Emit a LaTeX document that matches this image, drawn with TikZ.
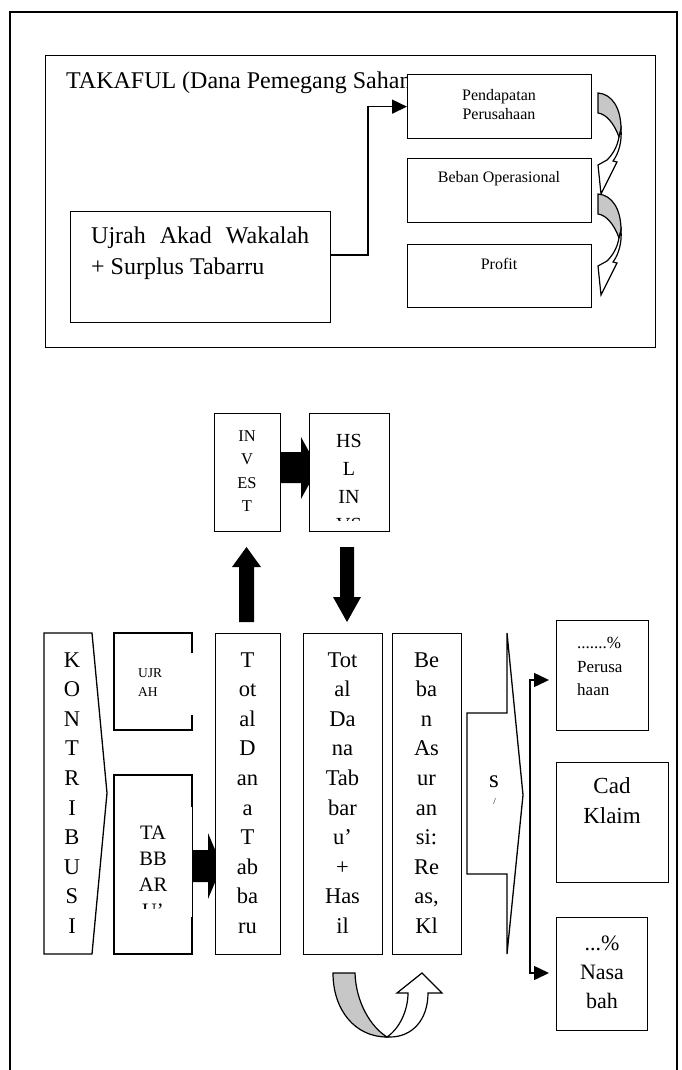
\documentclass[tikz,border=0pt]{standalone}
\usepackage{fontspec}
\setmainfont{Liberation Serif}
\usetikzlibrary{arrows.meta}
\begin{document}
\begin{tikzpicture}[x=1pt,y=-1pt,
  lw/.style={line width=1.3pt},
  box/.style={draw,line width=1.3pt,fill=white,inner sep=0pt},
  conn/.style={line width=1.5pt},
  tri/.tip={Triangle[length=15pt,width=14pt]},
  coltext/.style={anchor=base,inner sep=0pt,font=\fontsize{22.5}{26}\selectfont},
  nasatext/.style={anchor=base,inner sep=0pt,font=\fontsize{22}{26}\selectfont},
  curvarr/.pic={
    \filldraw[fill=black!22,line width=1.2pt] (0,0) .. controls (14,1) and (23,15) .. (23,36) -- (21,44) .. controls (16,30) and (8,21) .. (0,20) -- cycle;
    \filldraw[fill=white,line width=1.2pt] (21,44) .. controls (19,55) and (14,62) .. (9,67) -- (0,72) -- (3,101) -- (19,69) -- (15,68) .. controls (21,60) and (24,48) .. (23,36) -- cycle;
  }]
\useasboundingbox (0,0) rectangle (681,1070);
% outer frame
\draw[line width=1.5pt] (10,1072) -- (10,12) -- (677,12) -- (677,1072);

% ---------- top section ----------
\node[box,anchor=north west,minimum width=610pt,minimum height=292pt] (takaful) at (45,55) {};
\node[anchor=base west,inner sep=0pt,font=\fontsize{24}{28}\selectfont] (title) at (66,89) {TAKAFUL (Dana Pemegang Saham};
\node[box,anchor=north west,minimum width=184pt,minimum height=64pt] (pend) at (407,74) {};
\node[align=center,inner sep=0pt,font=\fontsize{16}{19}\selectfont] (pendt) at (499,104.5) {Pendapatan\\Perusahaan};
\node[box,anchor=north west,minimum width=184pt,minimum height=64pt] (beban) at (407,158) {};
\node[inner sep=0pt,font=\fontsize{16}{19}\selectfont] (bebant) at (499,179) {Beban Operasional};
\node[box,anchor=north west,minimum width=184pt,minimum height=63pt] (profit) at (407,244) {};
\node[inner sep=0pt,font=\fontsize{16}{19}\selectfont] (profitt) at (499,264) {Profit};
\node[box,anchor=north west,minimum width=260pt,minimum height=111pt] (ujrah) at (70,211) {};
\node[anchor=base west,inner sep=0pt,font=\fontsize{24}{28}\selectfont] (ujraht1) at (91,243) {\makebox[218pt][s]{Ujrah Akad Wakalah}};
\node[anchor=base west,inner sep=0pt,font=\fontsize{24}{28}\selectfont] (ujraht2) at (91,274) {+ Surplus Tabarru};
\draw[conn,-tri] (ujrah.east |- 0,255) -- (368,255) |- (pend.west);
\pic at (598,93) {curvarr};
\pic at (598,194) {curvarr};

% ---------- invest / hasil ----------
\fill (280,452) -- (301,452) -- (301,437) -- (318,468) -- (301,499) -- (301,483) -- (280,483) -- cycle;
\node[box,anchor=north west,minimum width=66pt,minimum height=118pt] (invest) at (214,413) {};
\node[box,anchor=north west,minimum width=80pt,minimum height=118pt] (hsl) at (309,413) {};
\foreach \t [count=\i] in {IN,V,ES,T}
  \node[anchor=base,inner sep=0pt,font=\fontsize{16.5}{20}\selectfont] (inv\i) at (247,{441.5+23.3*(\i-1)}) {\t};
\begin{scope}
  \clip (309,413) rectangle (389,520);
  \foreach \t [count=\i] in {HS,L,IN,VS}
    \node[anchor=base,inner sep=0pt,font=\fontsize{20}{24}\selectfont] (hsl\i) at (349,{447+28.3*(\i-1)}) {\t};
\end{scope}
% up and down block arrows
\fill (239,622) -- (239,567) -- (232,567) -- (246.5,547) -- (261,567) -- (254,567) -- (254,622) -- cycle;
\fill (340,547) -- (354,547) -- (354,597) -- (361,597) -- (347,622) -- (333,597) -- (340,597) -- cycle;

% ---------- bottom row ----------
\draw[lw,fill=white] (44,633) -- (92,633) -- (107,793) -- (92,954) -- (44,954) -- cycle;
\foreach \t [count=\i] in {K,O,N,T,R,I,B,U,S,I}
  \node[coltext] (kon\i) at (72,{667+29.6*(\i-1)}) {\t};

% UJRAH box (right side partly missing)
\draw[lw] (192,653) -- (192,633) -- (114,633) -- (114,730) -- (192,730) -- (192,715);
\node[anchor=base west,inner sep=0pt,font=\fontsize{13.5}{16}\selectfont] (uj1) at (138,677.5) {UJR};
\node[anchor=base west,inner sep=0pt,font=\fontsize{13.5}{16}\selectfont] (uj2) at (138,696.5) {AH};

% TABBARU box
\draw[lw] (192,807) -- (192,775) -- (114,775) -- (114,954) -- (192,954) -- (192,917);
\draw[line width=0.6pt] (192,807) -- (192,917);
\begin{scope}
  \clip (114,775) rectangle (192,908);
  \foreach \t [count=\i] in {TA,BB,AR,U’}
    \node[anchor=base,inner sep=0pt,font=\fontsize{20.5}{24}\selectfont] (tab\i) at (153,{839+26*(\i-1)}) {\t};
\end{scope}
\fill (192,850) -- (208,850) -- (208,833) -- (222,866) -- (208,899) -- (208,882) -- (192,882) -- cycle;

% Total Dana Tabbaru
\node[box,anchor=north west,minimum width=65pt,minimum height=321pt] (total) at (215,633) {};
\foreach \t [count=\i] in {T,ot,al,D,an,a,T,ab,ba,ru}
  \node[coltext] (tot\i) at (247.5,{667+29.6*(\i-1)}) {\t};
% Total + Hasil
\node[box,anchor=north west,minimum width=79pt,minimum height=321pt] (hasil) at (303,633) {};
\foreach \t [count=\i] in {Tot,al,Da,na,Tab,bar,u’,+,Has,il}
  \node[coltext] (has\i) at (342.5,{667+29.6*(\i-1)}) {\t};
% Beban Asuransi
\node[box,anchor=north west,minimum width=69pt,minimum height=321pt] (bebanas) at (392,633) {};
\foreach \t [count=\i] in {Be,ba,n,As,ur,an,si:,Re,{as,},Kl}
  \node[coltext] (ba\i) at (426.5,{667+29.6*(\i-1)}) {\t};

% big right arrow with s/
\draw[lw,fill=white] (467,713) -- (507,713) -- (507,633) -- (523,795) -- (507,954) -- (507,874) -- (467,874) -- cycle;
\node[anchor=base,inner sep=0pt,font=\fontsize{25}{28}\selectfont] (s1) at (494,787.5) {s};
\node[inner sep=0pt,font=\fontsize{9}{10}\selectfont] (s2) at (494.5,802) {/};

% right boxes
\node[box,anchor=north west,minimum width=92pt,minimum height=110pt] (perus) at (556,620) {};
\node[anchor=base west,inner sep=0pt,font=\fontsize{17}{20}\selectfont] (pe1) at (577,648) {.......\%};
\node[anchor=base west,inner sep=0pt,font=\fontsize{17}{20}\selectfont] (pe2) at (577,672) {Perusa};
\node[anchor=base west,inner sep=0pt,font=\fontsize{17}{20}\selectfont] (pe3) at (577,695) {haan};
\node[box,anchor=north west,minimum width=112pt,minimum height=120pt] (cad) at (556,762) {};
\node[align=center,inner sep=0pt,font=\fontsize{23}{30}\selectfont] (cadt) at (612,801) {Cad\\Klaim};
\node[box,anchor=north west,minimum width=91pt,minimum height=113pt] (nasa) at (556,917) {};
\node[nasatext] (na1) at (602,950) {...\%};
\node[nasatext] (na2) at (602,979) {Nasa};
\node[nasatext] (na3) at (602,1008) {bah};
\draw[conn,tri-tri,shorten <=7pt,shorten >=7pt] (perus.west |- 0,680) -| (530,820) |- (nasa.west |- 0,973);

% bottom U arrow
\filldraw[fill=black!22,line width=1.2pt] (333,973) -- (355,973) .. controls (356,1003) and (371,1027) .. (387,1037) .. controls (355,1037) and (333,1010) .. (333,973) -- cycle;
\filldraw[fill=white,line width=1.2pt] (387,1037) .. controls (400,1028) and (408,1010) .. (408,993) -- (397,993) -- (422,973) -- (442,993) -- (428,993) .. controls (428,1020) and (412,1037) .. (390,1037) -- cycle;
\end{tikzpicture}
\end{document}
